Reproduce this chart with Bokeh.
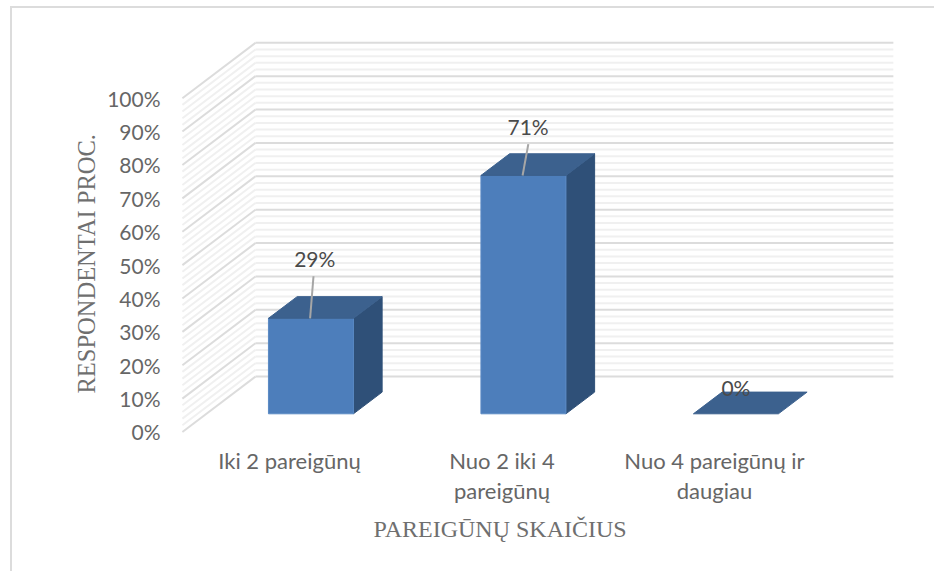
from bokeh.plotting import figure
from bokeh.models import Range1d, FixedTicker, LinearAxis, Title
from bokeh.core.properties import value
from bokeh.embed import file_html
from bokeh.resources import INLINE

# ---- chart data ----
categories_line1 = ["Iki 2 pareigūnų", "Nuo 2 iki 4", "Nuo 4 pareigūnų ir"]
categories_line2 = ["", "pareigūnų", "daugiau"]
shares = [28.6, 71.4, 0.0]
y_ticks = [0, 10, 20, 30, 40, 50, 60, 70, 80, 90, 100]
minor_grid = [v for v in range(0, 101, 2)]
y_title = "RESPONDENTAI PROC."
x_title = "PAREIGŪNŲ SKAIČIUS"

# ---- 3D projection constants, in axis units ----
WALL_X0, WALL_X1 = -0.504, -0.160  # side wall front / back edge
WALL_RIGHT = 2.842                 # back wall right end
WALL_LIFT = 16.6                   # rise of the back wall
BAR_OFF, BAR_HALF = 0.101, 0.20
BAR_BASE = 5.45
BAR_DX, BAR_DY = 0.135, 6.5
label_lift = [18.0, 14.7, 7.8]
label_dx = [0.018, 0.022, 0.0]
leader_high = [12.6, 9.4]
leader_dx = [0.016, 0.027]

FONT = "Lato"
SERIF = "Liberation Serif"
AXIS_C = "#666666"
TITLE_C = "#6f6f6f"

p = figure(width=924, height=565, output_backend="svg", toolbar_location=None,
           x_range=Range1d(-0.5835, 3.045), y_range=Range1d(-1.35, 126.87),
           min_border_left=153, min_border_right=0, min_border_top=0, min_border_bottom=137,
           outline_line_color=None, background_fill_color="white", border_fill_color="white",
           margin=(6, 0, 0, 10),
           styles={"border-top": "2px solid #dcdcdc", "border-left": "2px solid #dcdcdc"})
p.grid.visible = False

# y axis
ya = p.yaxis[0]
ya.ticker = FixedTicker(ticks=y_ticks)
ya.major_label_overrides = {t: f"{t}%" for t in y_ticks}
ya.axis_line_color = None
ya.major_tick_line_color = None
ya.minor_tick_line_color = None
ya.major_tick_out = 0
ya.major_label_standoff = 5
ya.major_label_text_font = FONT
ya.major_label_text_font_size = "21px"
ya.major_label_text_color = AXIS_C

# x axis: two rows of category labels
ticks = list(range(len(categories_line1)))
xa = p.xaxis[0]
xa.ticker = FixedTicker(ticks=ticks)
xa.major_label_overrides = dict(zip(ticks, categories_line1))
xa2 = LinearAxis(ticker=FixedTicker(ticks=ticks),
                 major_label_overrides=dict(zip(ticks, categories_line2)))
p.add_layout(xa2, "below")
for ax, standoff in ((xa, 10), (xa2, 0)):
    ax.axis_line_color = None
    ax.major_tick_line_color = None
    ax.minor_tick_line_color = None
    ax.major_tick_out = 0
    ax.major_label_standoff = standoff
    ax.major_label_text_font = FONT
    ax.major_label_text_font_size = "22px"
    ax.major_label_text_color = AXIS_C

# axis titles, placed off-centre along the frame
p.add_layout(Title(text=y_title, align="left", offset=43, standoff=9, text_font=SERIF,
                   text_font_style="normal", text_font_size="24.5px", text_color=TITLE_C), "left")
p.add_layout(Title(text=x_title, align="left", offset=208, standoff=14, text_font=SERIF,
                   text_font_style="normal", text_font_size="24px", text_color=TITLE_C), "below")

# walls
def grid(vals, color, width):
    p.segment([WALL_X0] * len(vals), vals, [WALL_X1] * len(vals), [v + WALL_LIFT for v in vals],
              line_color=color, line_width=width)
    p.segment([WALL_X1] * len(vals), [v + WALL_LIFT for v in vals], [WALL_RIGHT] * len(vals),
              [v + WALL_LIFT for v in vals], line_color=color, line_width=width)

grid([v for v in minor_grid if v not in y_ticks], "#f0f0f0", 2)
grid(y_ticks, "#dcdcdc", 2)

# bars
for i, v in enumerate(shares):
    l = i + BAR_OFF - BAR_HALF
    r = i + BAR_OFF + BAR_HALF
    b = BAR_BASE
    t = BAR_BASE + v
    if v > 0:
        p.patch([r, r + BAR_DX, r + BAR_DX, r], [b, b + BAR_DY, t + BAR_DY, t],
                fill_color="#2f5078", line_color="#2f5078", line_width=1)
        p.patch([l, r, r, l], [b, b, t, t], fill_color="#4d7ebb", line_color="#5a8ac4", line_width=1)
    p.patch([l, r, r + BAR_DX, l + BAR_DX], [t, t, t + BAR_DY, t + BAR_DY],
            fill_color="#3c618e", line_color="#3c618e", line_width=1)

# data labels and leaders
for i, v in enumerate(shares):
    top = BAR_BASE + v
    if i < len(leader_high):
        p.line([i + BAR_OFF - 0.004, i + BAR_OFF - 0.004 + leader_dx[i]],
               [top, top + leader_high[i]], line_color="#a6a6a6", line_width=2)
    p.text([i + BAR_OFF + label_dx[i]], [top + label_lift[i]], text=[f"{round(v)}%"],
           text_font=value(FONT), text_font_size="21px", text_color="#4a4a4a",
           text_align="center", text_baseline="middle")

open("out.html", "w").write(file_html(p, INLINE))
